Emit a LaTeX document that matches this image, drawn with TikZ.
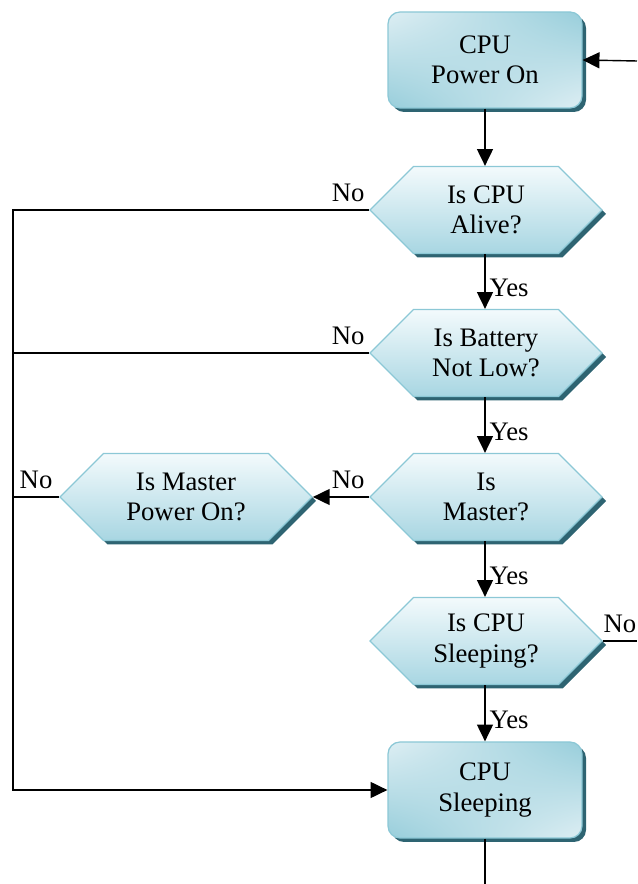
\documentclass[tikz,border=0pt]{standalone}
\usepackage{fontspec}
\setmainfont{Liberation Serif}
\newfontfamily\pwserif{Liberation Serif}
\usetikzlibrary{shapes.symbols,shadows,shadings,arrows.meta}
\definecolor{pwlight}{HTML}{DDEEF3}
\definecolor{pwdark}{HTML}{98CEDB}
\definecolor{pwhextop}{HTML}{F3FAFC}
\definecolor{pwhexbot}{HTML}{A8D6E2}
\definecolor{pwedge}{HTML}{8CC8D6}
\definecolor{pwshade}{HTML}{2E6472}
\newcommand{\pwfont}{\pwserif\fontsize{19}{21.5}\selectfont}
\tikzset{
  pwbox/.style={rectangle, rounded corners=0.3cm, minimum width=4.85cm, minimum height=2.4cm,
    draw=pwedge, line width=0.9pt, upper left=pwlight, lower right=pwlight,
    upper right=pwdark, lower left=pwdark, align=center, font=\pwfont,
    drop shadow={shadow xshift=0.1cm, shadow yshift=-0.1cm, fill=pwshade, opacity=1}},
  pwhex/.style={signal, signal to=west and east, signal pointer angle=90,
    minimum width=5.8cm, minimum height=2.175cm, inner sep=0pt,
    draw=pwedge, line width=0.9pt, top color=pwhextop, bottom color=pwhexbot,
    align=center, font=\pwfont,
    drop shadow={shadow xshift=0.1cm, shadow yshift=-0.1cm, fill=pwshade, opacity=1}},
  pwflow/.style={line width=1pt, draw=black},
  pwarrow/.style={pwflow, -{Triangle[length=0.42cm,width=0.4cm]}},
  pwlabel/.style={font=\pwfont, inner sep=0.1cm},
  pwno/.style={pwlabel, yshift=0.1cm},
}

\begin{document}
\begin{tikzpicture}
\useasboundingbox (0,0) rectangle (15.925,22.100);
% boxes and questions
\node[pwbox] (poweron) at (12.125,20.600) {CPU\\Power On};
\node[pwhex] (alive) at (12.150,16.850) {Is CPU\\Alive?};
\node[pwhex] (battery) at (12.150,13.275) {Is Battery\\Not Low?};
\node[pwhex] (master) at (12.150,9.675) {Is\\Master?};
\node[pwhex, minimum width=6.3cm] (mpower) at (4.650,9.675) {Is Master\\Power On?};
\node[pwhex] (sleepq) at (12.150,6.075) {Is CPU\\Sleeping?};
\node[pwbox] (sleep) at (12.125,2.350) {CPU\\Sleeping};
\coordinate (retin) at (15.925,20.575);
\coordinate (railtop) at (0.325,16.850);
% flow
\draw[pwarrow] (retin) -- (poweron.east);
\draw[pwarrow] (poweron.south) -- (poweron.south |- alive.north);
\draw[pwarrow] (alive.south -| poweron) -- node[pwlabel, right, pos=0.62] {Yes} (battery.north -| poweron);
\draw[pwarrow] (battery.south -| poweron) -- node[pwlabel, right, pos=0.62] {Yes} (master.north -| poweron);
\draw[pwarrow] (master.south -| poweron) -- node[pwlabel, right, pos=0.62] {Yes} (sleepq.north -| poweron);
\draw[pwarrow] (sleepq.south -| poweron) -- node[pwlabel, right, pos=0.62] {Yes} (sleep.north);
\draw[pwarrow] (alive.west) -- node[pwno, above left, pos=0] {No} (railtop) |- (sleep.west);
\draw[pwflow] (battery.west) -- node[pwno, above left, pos=0] {No} (battery.west -| railtop);
\draw[pwarrow] (master.west) -- node[pwno, above left, pos=0] {No} (mpower.east);
\draw[pwflow] (mpower.west) -- node[pwno, above] {No} (mpower.west -| railtop);
\draw[pwflow] (sleepq.east) -- node[pwno, above] {No} (sleepq.east -| retin);
\draw[pwflow] (sleep.south) -- (sleep.south |- 0,0);
\end{tikzpicture}
\end{document}
